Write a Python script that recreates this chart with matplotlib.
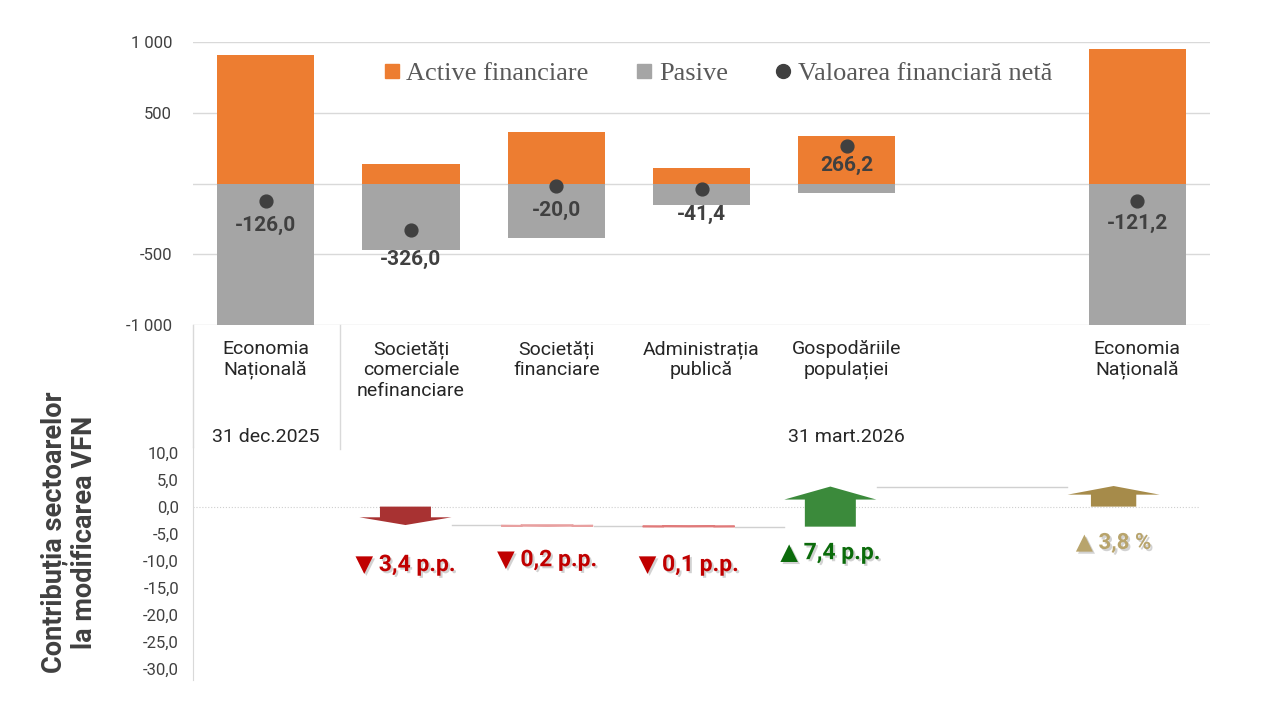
import matplotlib.pyplot as plt
import matplotlib.patheffects as pe
from matplotlib.lines import Line2D
from matplotlib.patches import Polygon
import matplotlib.transforms as mtransforms

plt.rcParams['font.family'] = ['Roboto', 'DejaVu Sans']

# data
categories = ["Economia\nNațională", "Societăți\ncomerciale\nnefinanciare",
              "Societăți\nfinanciare", "Administrația\npublică",
              "Gospodăriile\npopulației", "Economia\nNațională"]
xpos = [0, 1, 2, 3, 4, 6]
active = [908, 141, 362, 113, 336, 951]
net = [-126.0, -326.0, -20.0, -41.4, 266.2, -121.2]
pasive = [a - n for a, n in zip(active, net)]

contrib = [-3.4, -0.2, -0.1, 7.4]
contrib_x = [1, 2, 3, 4]
total_change = 3.8
total_x = 6
contrib_labels = ["▼ 3,4 p.p.", "▼ 0,2 p.p.", "▼ 0,1 p.p.", "▲ 7,4 p.p."]
total_label = "▲ 3,8 %"

W, H = 1271, 708
fig = plt.figure(figsize=(W / 100, H / 100), dpi=100)

def fx(px):
    return px / W

def fy(py):
    return 1 - py / H

# ---------- top chart ----------
ax1 = fig.add_axes([fx(193), fy(325), fx(1210 - 193), (325 - 42) / H])
ax1.set_xlim(-0.5, 6.5)
ax1.set_ylim(-1000, 1000)
ax1.bar(xpos, active, width=0.67, color='#ED7D31', zorder=2)
ax1.bar(xpos, [-p for p in pasive], width=0.67, color='#A5A5A5', zorder=2)
ax1.scatter(xpos, net, s=85, color='#404040', zorder=4)

# label offsets below the dots (pixels)
lab_off = [24, 30, 24, 25, 20, 23]
for x, v, off in zip(xpos, net, lab_off):
    ax1.annotate(f"{v:.1f}".replace('.', ','), (x, v), xytext=(0, -off),
                 textcoords='offset pixels', ha='center', va='center',
                 fontsize=15, fontweight='bold', color='#404040', zorder=5)

ax1.set_yticks([-1000, -500, 0, 500, 1000])
ax1.set_yticklabels(["-1 000", "-500", "", "500", "1 000"])
ax1.set_xticks([])
ax1.grid(axis='y', color='#D9D9D9', lw=1, zorder=0)
ax1.set_axisbelow(True)
for s in ax1.spines.values():
    s.set_visible(False)
ax1.tick_params(axis='y', length=0, pad=15, labelsize=12, labelcolor='#404040')

handles = [Line2D([], [], marker='s', ls='', color='#ED7D31', markersize=10),
           Line2D([], [], marker='s', ls='', color='#A5A5A5', markersize=10),
           Line2D([], [], marker='o', ls='', color='#404040', markersize=10)]
leg = ax1.legend(handles, ["Active financiare", "Pasive", "Valoarea financiară netă"],
                 loc='center', bbox_to_anchor=(0.515, 0.89), ncol=3, frameon=False,
                 handletextpad=0.15, columnspacing=1.7, handlelength=0.8,
                 prop={'family': 'Liberation Serif', 'size': 19})
for t in leg.get_texts():
    t.set_color('#595959')

# category labels
trans = mtransforms.blended_transform_factory(ax1.transData, ax1.transAxes)
for x, lab in zip(xpos, categories):
    ax1.text(x, (325 - 340) / 283, lab, transform=trans, ha='center', va='top',
             fontsize=14, color='#262626', linespacing=1.18)
ax1.text(0, (325 - 437) / 283, "31 dec.2025", transform=trans, ha='center',
         va='center', fontsize=14, color='#262626')
ax1.text(4, (325 - 437) / 283, "31 mart.2026", transform=trans, ha='center',
         va='center', fontsize=14, color='#262626')

# frame lines around category area
fig.add_artist(Line2D([fx(193), fx(193)], [fy(325), fy(447)], color='#D9D9D9', lw=1))
fig.add_artist(Line2D([fx(340), fx(340)], [fy(325), fy(449)], color='#D9D9D9', lw=1))

# ---------- bottom chart ----------
ax2 = fig.add_axes([fx(193), fy(680), fx(1200 - 193), (680 - 447) / H])
ax2.set_xlim(-0.5, 6.61)
ax2.set_ylim(-32, 11)
ax2.set_yticks(range(-30, 11, 5))
ax2.set_yticklabels([f"{v:.1f}".replace('.', ',') for v in range(-30, 11, 5)])
ax2.set_xticks([])
for k, s in ax2.spines.items():
    s.set_visible(k == 'left')
ax2.spines['left'].set_color('#D9D9D9')
ax2.tick_params(axis='y', length=0, pad=10, labelsize=12, labelcolor='#404040')
ax2.axhline(0, color='#CFCFCF', ls=':', lw=0.8, zorder=1)


def block_arrow(ax, xc, y0, y1, color, sw=0.36, hw=0.65, lw=0):
    d = y1 - y0
    sgn = 1 if d > 0 else -1
    hh = min(2.4, abs(d) * 0.42)
    yb = y1 - sgn * hh
    pts = [(xc - sw / 2, y0), (xc + sw / 2, y0), (xc + sw / 2, yb),
           (xc + hw / 2, yb), (xc, y1), (xc - hw / 2, yb), (xc - sw / 2, yb)]
    ax.add_patch(Polygon(pts, closed=True, facecolor=color, edgecolor=color,
                         lw=lw, zorder=3))


shadow = [pe.withSimplePatchShadow(offset=(1.5, -1.5), shadow_rgbFace='#808080', alpha=0.35)]
arrow_colors = ['#A83232', '#E8A0A0', '#E07A7A', '#3B8A3B']
text_colors = ['#C00000', '#C00000', '#C00000', '#0B6B0B']
label_y = [-10.7, -9.8, -10.7, -8.5]

level = 0.0
prev_x = None
for x, c, ac, tc, lab, ly in zip(contrib_x, contrib, arrow_colors, text_colors,
                                 contrib_labels, label_y):
    if prev_x is not None:
        ax2.plot([prev_x + 0.33, x - 0.33], [level, level], color='#D0D0D0', lw=1, zorder=2)
    block_arrow(ax2, x, level, level + c, ac, lw=1.2 if abs(c) < 1 else 0)
    level += c
    prev_x = x
    ax2.text(x, ly, lab, ha='center', va='center', fontsize=16.5, fontweight='bold',
             color=tc, path_effects=shadow)

ax2.plot([prev_x + 0.33, total_x - 0.33], [level, level], color='#D0D0D0', lw=1, zorder=2)
block_arrow(ax2, total_x, 0, total_change, '#A68B4A', sw=0.32)
ax2.text(total_x, -6.7, total_label, ha='center', va='center', fontsize=16,
         fontweight='bold', color='#B8A46C', path_effects=shadow)

fig.text(fx(69), fy(532), "Contribuția sectoarelor\nla modificarea VFN", rotation=90,
         ha='center', va='center', fontsize=19.5, fontweight='bold', color='#404040',
         linespacing=1.15)

fig.savefig("out.png", dpi=100)
